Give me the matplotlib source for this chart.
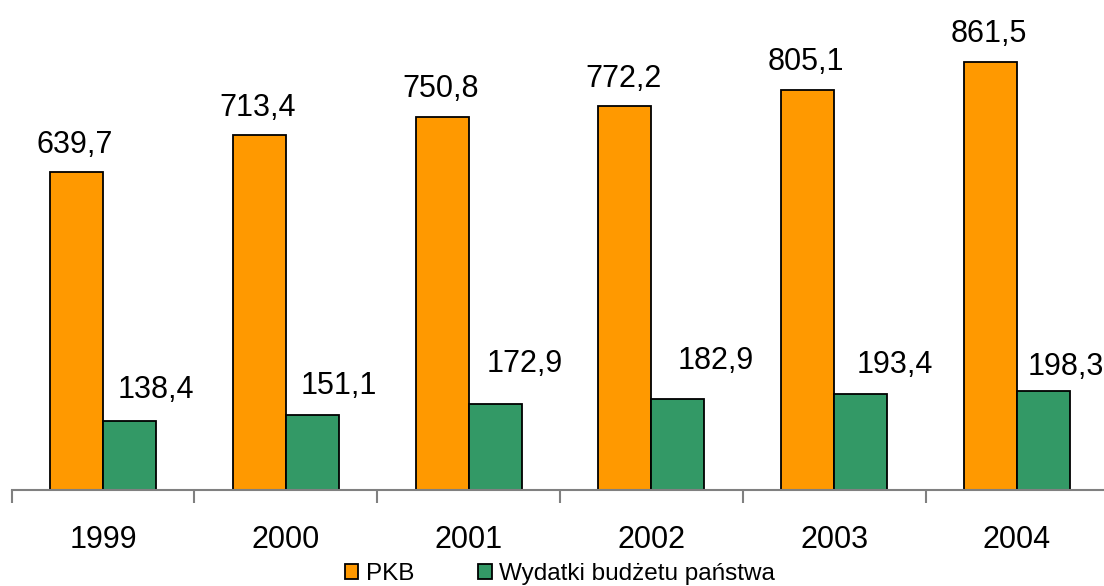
import matplotlib
matplotlib.use("Agg")
import matplotlib.pyplot as plt
import numpy as np

plt.rcParams['font.family'] = ['Liberation Sans', 'DejaVu Sans']

years = ["1999", "2000", "2001", "2002", "2003", "2004"]
pkb = [639.7, 713.4, 750.8, 772.2, 805.1, 861.5]
wydatki = [138.4, 151.1, 172.9, 182.9, 193.4, 198.3]

# hand-placed label shifts for the budget series (points)
wyd_dx = [19, 19, 21.5, 27.5, 24.5, 16]
wyd_dy = [17, 15, 23, 22, 15, 12]

def fmt(v):
    return "{:.1f}".format(v).replace(".", ",")

fig = plt.figure(figsize=(11.04, 5.86), dpi=100)
ax = fig.add_axes([11.6 / 1104, 1 - 490 / 586, 1096.8 / 1104, 490 / 586])

x = np.arange(len(years))
w = 0.29
b1 = ax.bar(x - w / 2, pkb, w, color="#FF9900", edgecolor="black", linewidth=1.3, label="PKB")
b2 = ax.bar(x + w / 2, wydatki, w, color="#339966", edgecolor="black", linewidth=1.3,
            label="Wydatki budżetu państwa")

for xi, v in zip(x, pkb):
    ax.annotate(fmt(v), (xi - w / 2 - 0.01, v), xytext=(0, 14), textcoords="offset points",
                ha="center", va="baseline", fontsize=22)
for xi, v, dx, dy in zip(x, wydatki, wyd_dx, wyd_dy):
    ax.annotate(fmt(v), (xi + w / 2, v), xytext=(dx, dy), textcoords="offset points",
                ha="center", va="baseline", fontsize=22)

ax.set_xlim(-0.5, len(years) - 0.5)
ax.set_ylim(0, 986)
for s in ["top", "right", "left"]:
    ax.spines[s].set_visible(False)
ax.spines["bottom"].set_color("#808080")
ax.spines["bottom"].set_linewidth(1.5)
ax.set_yticks([])
ax.set_xticks(np.arange(-0.5, len(years), 1.0))
ax.set_xticks(x, minor=True)
ax.set_xticklabels([])
ax.set_xticklabels(years, minor=True, fontsize=22)
ax.tick_params(axis="x", which="major", length=9, width=1.5, color="#808080")
ax.tick_params(axis="x", which="minor", length=0, pad=25)

fig.legend(handles=[b1, b2], loc="center", bbox_to_anchor=(560 / 1104, 1 - 574 / 586),
           ncol=2, frameon=False, fontsize=17.5, handlelength=0.55, handleheight=0.55,
           handletextpad=0.3, columnspacing=2.65, borderpad=0)

fig.savefig("out.png", dpi=100)
